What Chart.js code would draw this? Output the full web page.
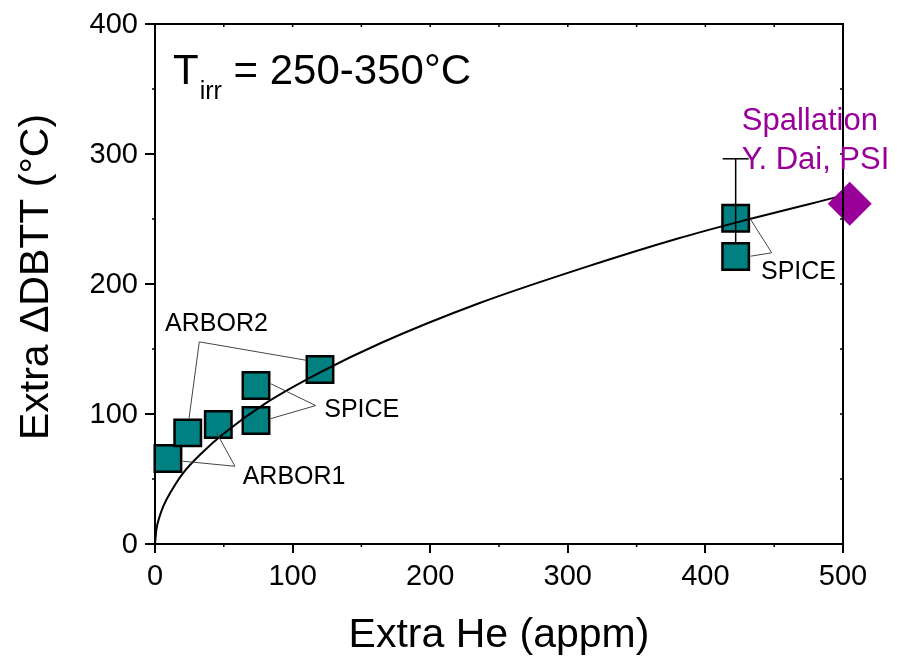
<!DOCTYPE html>
<html>
<head>
<meta charset="utf-8">
<script src="https://cdn.jsdelivr.net/npm/chart.js@4.4.0/dist/chart.umd.min.js"></script>
<style>
  html, body { margin: 0; padding: 0; background: #fff; }
  canvas { display: block; }
</style>
</head>
<body>
<canvas id="c" width="898" height="660"></canvas>
<script>
// ---- Data ----
const squaresHe   = [9.4, 23.8, 46, 73.4, 73.4, 119.9, 422];
const squaresDBTT = [65.8, 85.5, 91.9, 121.9, 95.0, 134.2, 250.6];
const lowerSquareHe   = [422];
const lowerSquareDBTT = [221.2];
const errBarHe   = [422, 422];
const errBarDBTT = [221.2, 296.3];
const spallHe   = [504.9];
const spallDBTT = [261.8];
const fitHe   = [0, 1, 3, 6, 12, 20, 35, 50, 80, 120, 165, 235, 310, 380, 425, 500];
const fitDBTT = [0, 11, 20, 29, 41, 54, 71, 85, 108, 132, 155, 185, 212, 235, 248, 268];
// leader lines: [end1, vertex, end2]
const leaderArbor2He   = [24.7, 32.2, 109.5];
const leaderArbor2DBTT = [96.5, 155.5, 141.4];
const leaderSpiceHe    = [84.3, 116.8, 84.3];
const leaderSpiceDBTT  = [123.2, 106.5, 96.5];
const leaderArbor1He   = [20.1, 58.1, 44.8];
const leaderArbor1DBTT = [63.7, 59.8, 85.5];
const leaderSpice2He   = [432.9, 448.2, 432.9];
const leaderSpice2DBTT = [249.6, 224.0, 221.4];
const xTicks = [0, 100, 200, 300, 400, 500];
const yTicks = [0, 100, 200, 300, 400];
const xTitle = 'Extra He (appm)';
const yTitle = 'Extra \u0394DBTT (°C)';

const pts = (xs, ys) => xs.map((x, i) => ({x, y: ys[i]}));
const TEAL = '#008080';
const PURPLE = '#990099';
const FONT = '"Liberation Sans", Arial, sans-serif';

const leader = (xs, ys) => ({
  type: 'scatter', data: pts(xs, ys), showLine: true, borderColor: '#444',
  borderWidth: 1, pointRadius: 0, clip: false
});

const notes = [
  {text: 'ARBOR2', x: 7.3, y: 164.2, size: 25, color: '#000'},
  {text: 'SPICE', x: 123, y: 97.8, size: 25, color: '#000'},
  {text: 'ARBOR1', x: 63.7, y: 46.3, size: 25, color: '#000'},
  {text: 'SPICE', x: 440.4, y: 204, size: 25, color: '#000'},
  {text: 'Spallation', x: 426.4, y: 318.8, size: 31, color: PURPLE},
  {text: 'Y. Dai, PSI', x: 426.4, y: 288.8, size: 31, color: PURPLE}
];

const framePlugin = {
  id: 'frame',
  afterDraw(chart) {
    const {ctx, chartArea: a, scales: {x, y}} = chart;
    ctx.save();
    ctx.strokeStyle = '#000';
    ctx.lineWidth = 2;
    ctx.beginPath();
    ctx.moveTo(a.left, a.top); ctx.lineTo(a.right, a.top); ctx.lineTo(a.right, a.bottom);
    ctx.stroke();
    ctx.lineWidth = 1.5;
    ctx.beginPath();
    for (let v = 0; v <= 500; v += 50) {
      const px = x.getPixelForValue(v);
      ctx.moveTo(px, a.top); ctx.lineTo(px, a.top + 3);
      if (v % 100 !== 0) { ctx.moveTo(px, a.bottom); ctx.lineTo(px, a.bottom + 3); }
    }
    for (let v = 0; v <= 400; v += 50) {
      const py = y.getPixelForValue(v);
      ctx.moveTo(a.right, py); ctx.lineTo(a.right - 3, py);
      if (v % 100 !== 0) { ctx.moveTo(a.left, py); ctx.lineTo(a.left - 3, py); }
    }
    ctx.stroke();

    // tick labels
    ctx.fillStyle = '#000';
    ctx.font = '29px ' + FONT;
    ctx.textBaseline = 'middle';
    ctx.textAlign = 'center';
    for (const v of xTicks) {
      ctx.fillText(String(v), x.getPixelForValue(v), a.bottom + 33);
    }
    ctx.textAlign = 'right';
    for (const v of yTicks) {
      ctx.fillText(String(v), a.left - 17, y.getPixelForValue(v) + 1);
    }
    // axis titles
    ctx.font = '41px ' + FONT;
    ctx.textAlign = 'center';
    ctx.fillText(xTitle, (a.left + a.right) / 2, 636);
    ctx.save();
    ctx.translate(37, 277);
    ctx.rotate(-Math.PI / 2);
    ctx.fillText(yTitle, 0, 0);
    ctx.restore();

    // text annotations
    ctx.textBaseline = 'alphabetic';
    ctx.textAlign = 'left';
    for (const n of notes) {
      ctx.font = n.size + 'px ' + FONT;
      ctx.fillStyle = n.color;
      ctx.fillText(n.text, x.getPixelForValue(n.x), y.getPixelForValue(n.y));
    }
    // T_irr label
    let tx = x.getPixelForValue(13.1);
    const ty = y.getPixelForValue(353.5);
    ctx.fillStyle = '#000';
    ctx.font = '42px ' + FONT;
    ctx.fillText('T', tx, ty);
    tx += ctx.measureText('T').width + 1;
    ctx.font = '25px ' + FONT;
    ctx.fillText('irr', tx, ty + 15);
    tx += ctx.measureText('irr').width;
    ctx.font = '42px ' + FONT;
    ctx.fillText(' = 250-350°C', tx, ty);
    ctx.restore();
  }
};

new Chart(document.getElementById('c'), {
  type: 'scatter',
  data: {
    datasets: [
      {data: pts(spallHe, spallDBTT), pointStyle: 'rectRot', pointRadius: 22,
       backgroundColor: PURPLE, borderColor: PURPLE, borderWidth: 0, clip: false},
      leader(leaderArbor2He, leaderArbor2DBTT),
      leader(leaderSpiceHe, leaderSpiceDBTT),
      leader(leaderArbor1He, leaderArbor1DBTT),
      leader(leaderSpice2He, leaderSpice2DBTT),
      {data: pts(fitHe, fitDBTT), showLine: true, borderColor: '#000', borderWidth: 2,
       pointRadius: 0, cubicInterpolationMode: 'monotone', clip: false},
      {data: pts(lowerSquareHe, lowerSquareDBTT), pointStyle: 'rect', pointRadius: 18.7,
       backgroundColor: TEAL, borderColor: '#000', borderWidth: 2.5, clip: false},
      {data: pts(errBarHe, errBarDBTT), showLine: true, borderColor: '#000', borderWidth: 1.5,
       pointStyle: 'line', pointRadius: [0, 13], pointBorderColor: '#000', pointBorderWidth: 1.5, clip: false},
      {data: pts(squaresHe, squaresDBTT), pointStyle: 'rect', pointRadius: 18.7,
       backgroundColor: TEAL, borderColor: '#000', borderWidth: 2.5, clip: false}
    ]
  },
  options: {
    responsive: false,
    animation: false,
    devicePixelRatio: 1,
    events: [],
    layout: {padding: {top: 24, right: 55, bottom: 0, left: 0}},
    plugins: {legend: {display: false}, tooltip: {enabled: false}},
    scales: {
      x: {
        type: 'linear', min: 0, max: 500,
        afterBuildTicks: s => { s.ticks = xTicks.map(v => ({value: v})); },
        afterFit: s => { s.height = 116; },
        border: {color: '#000', width: 2},
        grid: {drawOnChartArea: false, drawTicks: true, tickLength: 9, color: '#000', lineWidth: 2},
        ticks: {display: false}
      },
      y: {
        type: 'linear', min: 0, max: 400,
        afterBuildTicks: s => { s.ticks = yTicks.map(v => ({value: v})); },
        afterFit: s => { s.width = 155; },
        border: {color: '#000', width: 2},
        grid: {drawOnChartArea: false, drawTicks: true, tickLength: 10, color: '#000', lineWidth: 2},
        ticks: {display: false}
      }
    }
  },
  plugins: [framePlugin]
});
</script>
</body>
</html>
